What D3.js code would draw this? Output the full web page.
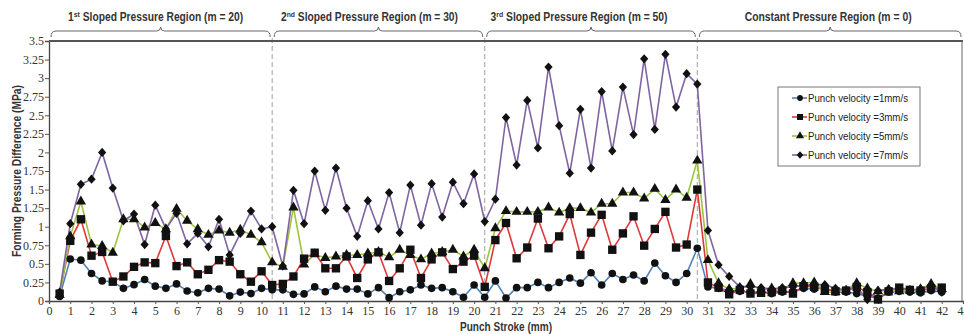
<!DOCTYPE html>
<html>
<head>
<meta charset="utf-8">
<script src="https://cdn.jsdelivr.net/npm/d3@7"></script>
<style>
  html, body { margin: 0; padding: 0; background: #fff; }
  svg { display: block; }
</style>
</head>
<body>
<svg id="chart" width="964" height="334"></svg>
<script>
// ---------------- DATA ----------------
const stroke = [0.5,1,1.5,2,2.5,3,3.5,4,4.5,5,
  5.5,6,6.5,7,7.5,8,8.5,9,9.5,10,
  10.5,11,11.5,12,12.5,13,13.5,14,14.5,15,
  15.5,16,16.5,17,17.5,18,18.5,19,19.5,20,
  20.5,21,21.5,22,22.5,23,23.5,24,24.5,25,
  25.5,26,26.5,27,27.5,28,28.5,29,29.5,30,
  30.5,31,31.5,32,32.5,33,33.5,34,34.5,35,
  35.5,36,36.5,37,37.5,38,38.5,39,39.5,40,
  40.5,41,41.5,42];

const v1 = [0.06,0.565,0.55,0.37,0.27,0.26,0.17,0.22,0.29,0.20,
  0.17,0.23,0.135,0.11,0.17,0.16,0.07,0.12,0.10,0.17,
  0.15,0.15,0.09,0.095,0.19,0.125,0.20,0.16,0.16,0.095,
  0.18,0.045,0.125,0.15,0.215,0.17,0.18,0.125,0.05,0.215,
  0.05,0.27,0.04,0.18,0.18,0.25,0.18,0.25,0.31,0.24,
  0.38,0.215,0.37,0.29,0.35,0.27,0.51,0.34,0.25,0.37,
  0.71,0.19,0.17,0.14,0.13,0.12,0.12,0.10,0.12,0.13,
  0.17,0.16,0.18,0.12,0.12,0.10,0.06,0.04,0.12,0.13,
  0.12,0.11,0.14,0.12];

const v3 = [0.10,0.81,1.10,0.61,0.66,0.26,0.33,0.46,0.52,0.51,
  0.875,0.47,0.52,0.36,0.42,0.55,0.53,0.36,0.26,0.40,
  0.215,0.23,0.33,0.57,0.65,0.44,0.44,0.60,0.31,0.56,
  0.655,0.27,0.44,0.69,0.31,0.56,0.655,0.43,0.53,0.61,
  0.19,0.82,1.05,0.575,0.72,1.11,0.71,0.87,1.17,0.62,
  0.92,1.16,0.69,0.91,1.14,0.745,0.97,1.20,0.72,0.76,
  1.50,0.25,0.18,0.09,0.15,0.10,0.11,0.12,0.14,0.10,
  0.20,0.19,0.16,0.13,0.14,0.19,0.12,0.02,0.13,0.18,
  0.15,0.14,0.17,0.18];

const v5 = [0.08,0.87,1.34,0.76,0.74,0.65,1.10,1.10,0.99,1.05,
  0.965,1.24,1.08,0.965,0.89,0.95,0.92,0.96,0.89,0.79,
  0.52,0.46,1.26,0.49,0.63,0.58,0.60,0.62,0.62,0.64,
  0.66,0.59,0.69,0.62,0.56,0.64,0.66,0.69,0.60,0.69,
  0.44,0.98,1.21,1.20,1.20,1.20,1.26,1.19,1.25,1.25,
  1.19,1.31,1.31,1.46,1.46,1.38,1.51,1.36,1.50,1.39,
  1.89,0.55,0.24,0.16,0.17,0.23,0.15,0.17,0.15,0.24,
  0.24,0.25,0.12,0.12,0.14,0.24,0.17,0.13,0.15,0.13,
  0.14,0.16,0.23,0.16];

const v7 = [0.12,1.04,1.57,1.64,2.00,1.52,1.08,1.17,0.76,1.29,
  0.97,1.18,0.77,0.91,0.73,1.10,0.62,0.91,1.21,0.97,
  1.00,0.47,1.49,1.04,1.75,1.22,1.79,1.25,0.87,1.35,
  0.97,1.46,0.92,1.56,1.02,1.58,1.13,1.60,1.31,1.71,
  1.07,1.37,2.47,1.83,2.70,2.06,3.15,2.36,1.72,2.58,
  1.79,2.82,2.02,2.88,2.24,3.26,2.31,3.32,2.61,3.06,
  2.92,0.95,0.485,0.33,0.19,0.19,0.18,0.16,0.18,0.19,
  0.21,0.22,0.22,0.17,0.15,0.19,0.02,0.14,0.16,0.17,
  0.15,0.16,0.20,0.12];

const seriesNames = ["Punch velocity =1mm/s","Punch velocity =3mm/s","Punch velocity =5mm/s","Punch velocity =7mm/s"];
const xTicks = [0,1,2,3,4,5,6,7,8,9,10,11,12,13,14,15,16,17,18,19,20,21,22,23,24,25,26,27,28,29,30,31,32,33,34,35,36,37,38,39,40,41,42,43];
const yTicks = [0,0.25,0.5,0.75,1,1.25,1.5,1.75,2,2.25,2.5,2.75,3,3.25,3.5];
const yTickLabels = ["0","0.25","0.5","0.75","1","1.25","1.5","1.75","2","2.25","2.5","2.75","3","3.25","3.5"];
const regionBounds = [0, 10.5, 20.5, 30.5, 43];
const regionDividers = [10.5, 20.5, 30.5];
const regionLabels = [
  ["1", "st", " Sloped Pressure Region (m = 20)"],
  ["2", "nd", " Sloped Pressure Region (m = 30)"],
  ["3", "rd", " Sloped Pressure Region (m = 50)"],
  ["", "", "Constant Pressure Region (m = 0)"]
];
const xTitle = "Punch Stroke (mm)";
const yTitle = "Forming Pressure Difference (MPa)";

// ---------------- STYLE / LAYOUT ----------------
(function () {
const colors = ["#4f81bd", "#e0383a", "#9bc53d", "#8064a2"];
const diamond = { draw(ctx, size) { const r = Math.sqrt(size / 2); ctx.moveTo(0, -r*1.12); ctx.lineTo(r, 0); ctx.lineTo(0, r*1.12); ctx.lineTo(-r, 0); ctx.closePath(); } };
const symbols = [d3.symbolCircle, d3.symbolSquare, d3.symbolTriangle, diamond];
const symSizes = [46, 70, 46, 34];
const legSizes = [26, 36, 28, 22];

const svg = d3.select("#chart");
const pL = 49, pR = 963, pT = 41, pB = 301;
const x = d3.scaleLinear().domain([0, 43]).range([pL, pR]);
const y = d3.scaleLinear().domain([0, 3.5]).range([pB, pT]);

const allSeries = [v1, v3, v5, v7].map(vals => stroke.map((s, i) => ({ x: s, y: vals[i] })));

// dashed dividers
svg.append("g").selectAll("line").data(regionDividers).join("line")
  .attr("x1", d => x(d)).attr("x2", d => x(d))
  .attr("y1", pT - 3).attr("y2", pB)
  .attr("stroke", "#a0a0a0").attr("stroke-width", 1).attr("stroke-dasharray", "5,3");

// axes
const yAxis = d3.axisLeft(y).tickValues(yTicks).tickFormat((d, i) => yTickLabels[i]).tickSize(4).tickPadding(1);
const gy = svg.append("g").attr("transform", `translate(${pL},0)`).call(yAxis);
gy.selectAll("text").attr("font-family", "'Liberation Serif', 'Times New Roman', serif").attr("font-size", 12).attr("fill", "#333");
gy.selectAll("line").attr("stroke", "#555");
gy.select(".domain").attr("stroke", "#444").attr("stroke-width", 1.3);

const xAxis = d3.axisBottom(x).tickValues(xTicks).tickFormat(d3.format("d")).tickSize(3).tickPadding(2);
const gx = svg.append("g").attr("transform", `translate(0,${pB})`).call(xAxis);
gx.selectAll("text").attr("font-family", "'Liberation Serif', 'Times New Roman', serif").attr("font-size", 12).attr("fill", "#333");
gx.selectAll("line").attr("stroke", "#555");
gx.select(".domain").attr("stroke", "#444").attr("stroke-width", 1.3);

// top & right frame
svg.append("line").attr("x1", pL).attr("x2", pR).attr("y1", pT).attr("y2", pT)
  .attr("stroke", "#555").attr("stroke-width", 2.2);
svg.append("line").attr("x1", pR - 1).attr("x2", pR - 1).attr("y1", pT).attr("y2", pB)
  .attr("stroke", "#666").attr("stroke-width", 1);

// braces
const braceY = 31;
function bracePath(a, b) {
  const x0 = x(a) + 2, x1 = x(b) - 2, m = (x(a) + x(b)) / 2;
  return `M${x0},${braceY + 6} Q${x0},${braceY} ${x0 + 5},${braceY} L${m - 4},${braceY} Q${m},${braceY} ${m},${braceY - 4} Q${m},${braceY} ${m + 4},${braceY} L${x1 - 5},${braceY} Q${x1},${braceY} ${x1},${braceY + 6}`;
}
const braceData = regionLabels.map((l, i) => ({ a: regionBounds[i], b: regionBounds[i + 1], label: l }));
svg.append("g").selectAll("path").data(braceData).join("path")
  .attr("d", d => bracePath(d.a, d.b)).attr("fill", "none").attr("stroke", "#666").attr("stroke-width", 1);

const labelOffsets = [-5, -9, -12, -2];
const labelWidths = [175, 177, 177, 167];
braceData.forEach((d, i) => {
  const cx = (x(d.a) + x(d.b)) / 2 + labelOffsets[i];
  const t = svg.append("text")
    .attr("x", cx - labelWidths[i] / 2).attr("y", 21)
    .attr("font-family", "'Liberation Sans', Arial, sans-serif").attr("font-weight", "bold")
    .attr("font-size", 12).attr("fill", "#333")
    .attr("textLength", labelWidths[i]).attr("lengthAdjust", "spacingAndGlyphs");
  if (d.label[0]) {
    t.append("tspan").text(d.label[0]);
    t.append("tspan").text(d.label[1]).attr("font-size", 8).attr("dy", -4);
    t.append("tspan").text(d.label[2]).attr("dy", 4);
  } else {
    t.text(d.label[2]);
  }
});

// lines
const line = d3.line().x(d => x(d.x)).y(d => y(d.y));
svg.append("g").selectAll("path").data(allSeries).join("path")
  .attr("d", d => line(d)).attr("fill", "none")
  .attr("stroke", (d, i) => colors[i]).attr("stroke-width", 1.6);

// markers
allSeries.forEach((ser, i) => {
  svg.append("g").selectAll("path").data(ser).join("path")
    .attr("transform", d => `translate(${x(d.x)},${y(d.y)})`)
    .attr("d", d3.symbol().type(symbols[i]).size(symSizes[i])())
    .attr("fill", "#111");
});

// axis titles
svg.append("text").attr("x", (pL + pR) / 2).attr("y", 331).attr("text-anchor", "middle")
  .attr("font-family", "'Liberation Sans', Arial, sans-serif").attr("font-weight", "bold").attr("font-size", 12)
  .attr("fill", "#333").attr("textLength", 92).attr("lengthAdjust", "spacingAndGlyphs").text(xTitle);
svg.append("text").attr("transform", `translate(21,${(pT + pB) / 2}) rotate(-90)`).attr("text-anchor", "middle")
  .attr("font-family", "'Liberation Sans', Arial, sans-serif").attr("font-weight", "bold").attr("font-size", 12)
  .attr("fill", "#333").attr("textLength", 172).attr("lengthAdjust", "spacingAndGlyphs").text(yTitle);

// legend
const leg = svg.append("g");
leg.append("rect").attr("x", 778).attr("y", 87).attr("width", 142).attr("height", 79)
  .attr("fill", "#fff").attr("stroke", "#777").attr("stroke-width", 1);
seriesNames.forEach((name, i) => {
  const ly = 98 + i * 19;
  leg.append("line").attr("x1", 792).attr("x2", 807).attr("y1", ly).attr("y2", ly)
    .attr("stroke", colors[i]).attr("stroke-width", 1.6);
  leg.append("path").attr("transform", `translate(800,${ly})`)
    .attr("d", d3.symbol().type(symbols[i]).size(legSizes[i])()).attr("fill", "#111");
  leg.append("text").attr("x", 808).attr("y", ly + 4)
    .attr("font-family", "'Liberation Sans', Arial, sans-serif").attr("font-size", 11).attr("fill", "#222")
    .attr("textLength", 100).attr("lengthAdjust", "spacingAndGlyphs").text(name);
});
})();
</script>
</body>
</html>
